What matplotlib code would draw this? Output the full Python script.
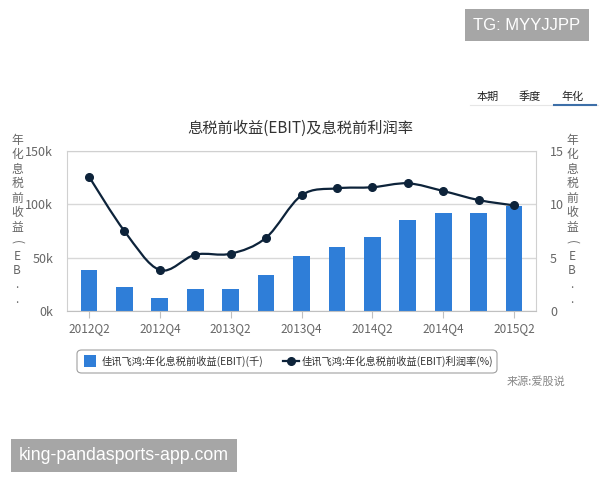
import matplotlib
matplotlib.use('Agg')
import matplotlib.pyplot as plt
from matplotlib.path import Path
from matplotlib.patches import PathPatch, FancyBboxPatch, Rectangle
from matplotlib.lines import Line2D

plt.rcParams['font.family'] = ['Noto Sans CJK SC', 'DejaVu Sans']

quarters = ['2012Q2', '2012Q3', '2012Q4', '2013Q1', '2013Q2', '2013Q3', '2013Q4',
            '2014Q1', '2014Q2', '2014Q3', '2014Q4', '2015Q1', '2015Q2']
ebit = [38.1, 22.8, 12.5, 20.9, 20.9, 33.7, 51.9, 60.3, 69.7, 85.0, 92.2, 92.2, 98.1]
margin = [12.6, 7.5, 3.84, 5.28, 5.37, 6.87, 10.84, 11.5, 11.6, 11.97, 11.25, 10.4, 9.9]
left_ticks = [0, 50, 100, 150]
left_labels = ['0k', '50k', '100k', '150k']
right_ticks = [0, 5, 10, 15]
axis_chars = ['年', '化', '息', '税', '前', '收', '益', '(', 'E', 'B', '.', '.']

blue = '#2f7ed8'
navy = '#0d233a'
grey = '#666666'

fig = plt.figure(figsize=(6, 4.8), dpi=100)
ax = fig.add_axes([67 / 600, 1 - 311 / 480, 469 / 600, 160 / 480])
x = list(range(len(quarters)))
ax.bar(x, ebit, width=0.47, color=blue, zorder=2)
ax.set_xlim(-0.62, len(quarters) - 1 + 0.62)
ax.set_ylim(0, 150)
ax.set_yticks(left_ticks)
ax.set_yticklabels(left_labels)
ax.grid(axis='y', color='#d8d8d8', linewidth=1, zorder=0)
ax.set_xticks(x[::2])
ax.set_xticklabels(quarters[::2])
ax.tick_params(axis='x', length=5, color='#c0c0c0', colors=grey, labelsize=8.5, pad=3)
ax.tick_params(axis='y', length=0, colors=grey, labelsize=9, pad=10)
for s in ax.spines.values():
    s.set_color('#d0d0d0')
ax.spines['bottom'].set_color('#c0c0c0')

ax2 = ax.twinx()
ax2.set_ylim(0, 15)
ax2.set_yticks(right_ticks)
ax2.tick_params(axis='y', length=0, colors=grey, labelsize=9, pad=10)
for s in ax2.spines.values():
    s.set_visible(False)

# smooth line through the points (bezier segments)
pts = list(zip(x, margin))
verts = [pts[0]]
codes = [Path.MOVETO]
n = len(pts)
for i in range(n - 1):
    p0 = pts[i - 1] if i > 0 else pts[i]
    p1 = pts[i]
    p2 = pts[i + 1]
    p3 = pts[i + 2] if i + 2 < n else pts[i + 1]
    c1 = (p1[0] + (p2[0] - p0[0]) / 6, p1[1] + (p2[1] - p0[1]) / 6)
    c2 = (p2[0] - (p3[0] - p1[0]) / 6, p2[1] - (p3[1] - p1[1]) / 6)
    verts += [c1, c2, p2]
    codes += [Path.CURVE4, Path.CURVE4, Path.CURVE4]
ax2.add_patch(PathPatch(Path(verts, codes), fill=False, edgecolor=navy, linewidth=1.6, zorder=3))
ax2.plot(x, margin, 'o', color=navy, markersize=5.5, zorder=4)

fig.text(0.5, 1 - 128 / 480, '息税前收益(EBIT)及息税前利润率', ha='center', va='center',
         fontsize=11, color='#333333')

# vertical axis titles, one character per line
for cx in (17, 572):
    for i, ch in enumerate(axis_chars):
        rot = -90 if ch == '(' else 0
        fig.text(cx / 600, 1 - (140 + i * 14.5) / 480, ch, ha='center', va='center',
                 fontsize=8.5, color=grey, rotation=rot)

# legend box
fig.patches.append(FancyBboxPatch((77 / 600, 1 - 373 / 480), 420 / 600, 23 / 480,
                                  boxstyle='round,pad=0,rounding_size=0.008',
                                  transform=fig.transFigure, facecolor='white',
                                  edgecolor='#a0a0a0', linewidth=0.8))
fig.patches.append(Rectangle((84 / 600, 1 - 367 / 480), 12 / 600, 12 / 480,
                             transform=fig.transFigure, facecolor=blue, edgecolor='none'))
fig.text(102 / 600, 1 - 361 / 480, '佳讯飞鸿:年化息税前收益(EBIT)(千)', ha='left', va='center',
         fontsize=7.4, color='#333333')
fig.lines.append(Line2D([283 / 600, 299 / 600], [1 - 361 / 480, 1 - 361 / 480],
                        transform=fig.transFigure, color=navy, linewidth=1.6))
fig.lines.append(Line2D([291 / 600], [1 - 361 / 480], transform=fig.transFigure,
                        color=navy, marker='o', markersize=5.5, linestyle='none'))
fig.text(302 / 600, 1 - 361 / 480, '佳讯飞鸿:年化息税前收益(EBIT)利润率(%)', ha='left',
         va='center', fontsize=7.4, color='#333333')

fig.text(565 / 600, 1 - 382 / 480, '来源:爱股说', ha='right', va='center', fontsize=8,
         color='#888888')

# period tabs
for label, cx in [('本期', 488), ('季度', 530), ('年化', 573)]:
    fig.text(cx / 600, 1 - 97 / 480, label, ha='center', va='center', fontsize=8,
             color='#222222')
fig.lines.append(Line2D([470 / 600, 598 / 600], [1 - 105 / 480, 1 - 105 / 480],
                        transform=fig.transFigure, color='#e6e6e6', linewidth=0.8))
fig.lines.append(Line2D([554 / 600, 596 / 600], [1 - 105 / 480, 1 - 105 / 480],
                        transform=fig.transFigure, color='#3d6fa8', linewidth=1.5))

# watermark boxes
fig.text(527 / 600, 1 - 25 / 480, 'TG: MYYJJPP', ha='center', va='center', fontsize=12,
         color='white', family='Liberation Sans',
         bbox=dict(boxstyle='square,pad=0.5', facecolor='#a6a6a6', edgecolor='none'))
fig.text(124 / 600, 1 - 455 / 480, 'king-pandasports-app.com', ha='center', va='center',
         fontsize=12.8, color='white', family='Liberation Sans',
         bbox=dict(boxstyle='square,pad=0.45', facecolor='#a6a6a6', edgecolor='none'))

fig.savefig('out.png', dpi=100, facecolor='white')
